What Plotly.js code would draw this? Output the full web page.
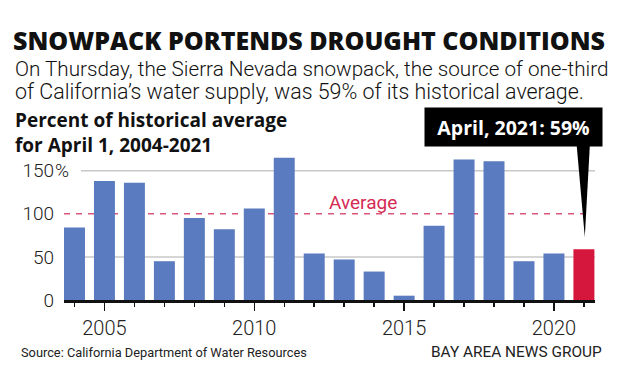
<!DOCTYPE html>
<html>
<head>
<meta charset="utf-8">
<script src="https://cdn.plot.ly/plotly-3.0.1.min.js"></script>
<style>html,body{margin:0;padding:0;background:#fff;}#chart{width:620px;height:378px;}</style>
</head>
<body>
<div id="chart"></div>
<script>
// ---- data ----
const years = [2004,2005,2006,2007,2008,2009,2010,2011,2012,2013,2014,2015,2016,2017,2018,2019,2020,2021];
const values = [84,138,136,45,95,82,106,165,54,47,33,5,86,163,161,45,54,59];
const yTickVals = [0,50,100,150];
const yTickText = ['0','50','100','150'];
const averageValue = 100;
const gridValues = [50,150];

const titleText = 'SNOWPACK PORTENDS DROUGHT CONDITIONS';
const subLine1 = 'On Thursday, the Sierra Nevada snowpack, the source of one-third';
const subLine2 = 'of California\u2019s water supply, was 59% of its historical average.';
const chartSub1 = 'Percent of historical average';
const chartSub2 = 'for April 1, 2004-2021';
const sourceText = 'Source: California Department of Water Resources';
const creditText = 'BAY AREA NEWS GROUP';

// ---- style ----
const BLUE = '#5a7bbf', RED = '#d6173d', INK = '#111111';
const SANS = 'Roboto, "Open Sans", sans-serif';
const WIDE = '"Open Sans", Roboto, sans-serif';
const last = years.length - 1;
const colors = years.map((y, i) => i === last ? RED : BLUE);

// plot box in px: left 64, right 595, top 100, bottom 300
const L = 64, R = 595, T = 100, B = 300;
const xp = px => (px - L) / (R - L);
const yp = py => (B - py) / (B - T);
const yMax = 232;
const yAt = py => (B - py) / (B - T) * yMax;

const trace = {
  type: 'bar', x: years, y: values,
  marker: {color: colors, line: {width: 0}},
  hoverinfo: 'x+y'
};

const shapes = [];
gridValues.forEach(v => shapes.push({
  type: 'line', layer: 'below', xref: 'paper', yref: 'y',
  x0: v === 150 ? xp(81) : 0, x1: 1, y0: v, y1: v,
  line: {color: '#c8c8c8', width: 1.5}
}));
shapes.push({
  type: 'line', layer: 'below', xref: 'paper', yref: 'y',
  x0: 0, x1: xp(591), y0: averageValue, y1: averageValue,
  line: {color: '#d9577b', width: 1.5, dash: '6px,6px'}
});
// callout wedge pointing at last bar
const tx = years[last], ty = values[last] + 14, topY = yAt(144);
shapes.push({
  type: 'path', layer: 'above', xref: 'x', yref: 'y',
  path: `M ${tx - 0.245} ${topY} L ${tx + 0.2} ${topY} L ${tx + 0.03} ${ty} Z`,
  fillcolor: '#000', line: {width: 0}
});

function txt(text, x, y, font, opts) {
  return Object.assign({
    text, x, y, xref: 'paper', yref: 'paper', showarrow: false,
    xanchor: 'left', yanchor: 'middle',
    font: Object.assign({family: SANS, color: INK}, font)
  }, opts || {});
}

const annotations = [
  txt(titleText, xp(11), yp(40.5), {family: WIDE, size: 25, weight: 800}),
  txt(subLine1, xp(13), yp(68.5), {size: 20.7, weight: 300}),
  txt(subLine2, xp(13), yp(91), {size: 21.4, weight: 300}),
  txt(chartSub1 + '<br>' + chartSub2, xp(13), yp(132), {family: WIDE, size: 19, weight: 700}, {align: 'left'}),
  txt('%', xp(53), 150, {size: 19, color: '#222', weight: 300}, {yref: 'y'}),
  txt('Average', xp(363), yAt(202), {size: 19, color: '#d42b54', weight: 400}, {yref: 'y', xanchor: 'center'}),
  txt(`April, ${years[last]}: ${values[last]}%`, xp(513.5), yp(127), {family: WIDE, size: 19.5, color: '#fff', weight: 700}, {
    xanchor: 'center', width: 177, height: 38, bgcolor: '#000', borderpad: 0
  }),
  txt(sourceText, xp(19), yp(352), {size: 12.8, color: '#222', weight: 400}),
  txt(creditText, xp(604), yp(352), {size: 15.4, color: '#222', weight: 400}, {xanchor: 'right'})
];

const layout = {
  width: 620, height: 378,
  margin: {l: L, r: 620 - R, t: T, b: 378 - B, pad: 0},
  paper_bgcolor: '#fff', plot_bgcolor: '#fff',
  showlegend: false, bargap: 0.3,
  xaxis: {
    range: [2003.65, 2021.37], tickmode: 'linear', tick0: 2005, dtick: 5,
    ticks: 'outside', ticklen: 8, tickwidth: 1.5, tickcolor: INK,
    showline: true, linecolor: INK, linewidth: 2.5,
    showgrid: false, zeroline: false, fixedrange: true,
    tickfont: {family: SANS, size: 20, color: '#222', weight: 300},
    minor: {tickmode: 'linear', tick0: 2004, dtick: 1, ticks: 'outside', ticklen: 4, tickwidth: 1.5, tickcolor: INK, showgrid: false}
  },
  yaxis: {
    range: [0, yMax], tickmode: 'array', tickvals: yTickVals, ticktext: yTickText,
    ticks: '', showgrid: false, zeroline: false, showline: false, fixedrange: true,
    ticklabelstandoff: 9,
    tickfont: {family: SANS, size: 19, color: '#222', weight: 300}
  },
  shapes, annotations
};

Plotly.newPlot('chart', [trace], layout, {displayModeBar: false, staticPlot: true});
</script>
</body>
</html>
